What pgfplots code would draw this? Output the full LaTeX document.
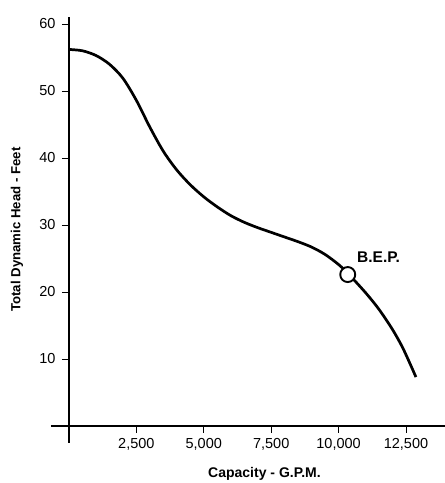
\documentclass[border=0pt]{standalone}
\usepackage{pgfplots}
\pgfplotsset{compat=1.18}
\usepackage{fontspec}
\setmainfont{Liberation Sans}
\begin{document}
\begin{tikzpicture}
\begin{axis}[
  scale only axis,
  width=394.1pt, height=425.5pt,
  xmin=-670, xmax=13947, ymin=-2.5, ymax=61,
  axis lines=middle,
  axis line style={-, line width=1.6pt},
  tick align=outside,
  major tick length=7pt,
  tick style={line width=0.9pt, black},
  scaled x ticks=false,
  xtick={2500,5000,7500,10000,12500},
  xticklabels={{2,500},{5,000},{7,500},{10,000},{12,500}},
  ytick={10,20,30,40,50,60},
  ticklabel style={font=\fontsize{14.5}{16}\selectfont},
  /pgf/number format/assume math mode=true,
  xticklabel style={yshift=-2pt},
  yticklabel style={xshift=-3pt},
  xlabel={Capacity - G.P.M.},
  ylabel={Total Dynamic Head - Feet},
  xlabel style={at={(axis description cs:0.542,-0.082)}, anchor=base, font=\bfseries\fontsize{14}{16}\selectfont},
  ylabel style={at={(axis description cs:-0.0863,0.501)}, anchor=center, rotate=90, font=\bfseries\fontsize{13.2}{16}\selectfont},
  clip=false,
]
\addplot[black, line width=2.7pt, smooth] coordinates {
(0,56.2) (500,56.0) (1000,55.3) (1500,54.0) (2000,51.9) (2500,48.6) (3000,44.6)
(3500,41.0) (4000,38.2) (4500,36.0) (5000,34.2) (5500,32.7) (6000,31.4)
(6500,30.4) (7000,29.6) (7500,28.9) (8000,28.2) (8500,27.5) (9000,26.7)
(9500,25.6) (10000,24.1) (10340,22.8) (11000,19.9) (11500,17.4) (12000,14.4)
(12400,11.5) (12870,7.3)
};
\addplot[only marks, mark=*, mark size=7.5pt, mark options={fill=white, draw=black, line width=1.9pt}] coordinates {(10340,22.6)};
\node[anchor=base west, font=\bfseries\fontsize{15.5}{17}\selectfont] at (axis cs:10560,24.4) {B.E.P.};
\coordinate (bl) at (axis cs:-2559,-8.51);
\coordinate (tr) at (axis cs:13947,63.58);
\end{axis}
\pgfresetboundingbox
\path[use as bounding box] (bl) rectangle (tr);
\end{tikzpicture}
\end{document}
